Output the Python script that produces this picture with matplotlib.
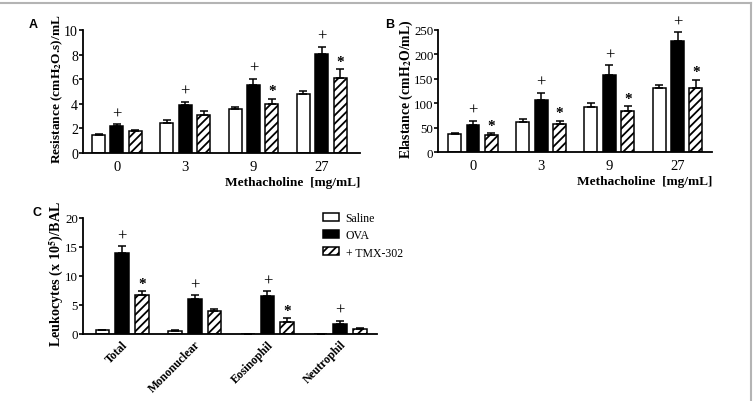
import numpy as np
import matplotlib
matplotlib.use('Agg')
import matplotlib.pyplot as plt
from matplotlib.patches import Patch
from matplotlib.lines import Line2D

plt.rcParams['font.family'] = 'Liberation Serif'
plt.rcParams['mathtext.fontset'] = 'stix'
plt.rcParams['hatch.linewidth'] = 1.3

# Methacholine doses
doses = ['0', '3', '9', '27']

# Resistance (cmH2O.s)/mL
res_saline = [1.45, 2.45, 3.55, 4.8]
res_saline_err = [0.08, 0.27, 0.22, 0.2]
res_ova = [2.2, 3.9, 5.55, 8.05]
res_ova_err = [0.12, 0.28, 0.5, 0.58]
res_tmx = [1.82, 3.05, 3.98, 6.1]
res_tmx_err = [0.06, 0.33, 0.43, 0.7]
res_plus = [True, True, True, True]
res_star = [False, False, True, True]

# Elastance (cmH2O/mL)
ela_saline = [37, 61, 92, 131]
ela_saline_err = [2, 7, 8, 6]
ela_ova = [56, 106, 157, 227]
ela_ova_err = [8, 16, 21, 18]
ela_tmx = [36, 58, 84, 131]
ela_tmx_err = [3, 6, 10, 17]
ela_plus = [True, True, True, True]
ela_star = [True, True, True, True]

# Leukocytes (x 10^5)/BAL
cells = ['Total', 'Mononuclear', 'Eosinophil', 'Neutrophil']
leu_saline = [0.6, 0.55, 0.0, 0.0]
leu_saline_err = [0.08, 0.08, 0.0, 0.0]
leu_ova = [13.9, 5.95, 6.45, 1.65]
leu_ova_err = [1.15, 0.7, 0.9, 0.65]
leu_tmx = [6.65, 3.95, 2.05, 0.8]
leu_tmx_err = [0.7, 0.4, 0.6, 0.18]
leu_plus = [True, True, True, True]
leu_star = [True, False, True, False]

fig = plt.figure(figsize=(7.53, 4.02), dpi=100)

W = 0.19   # bar width
D = 0.27   # bar offset


def bars(ax, labels, sal, sal_e, ova, ova_e, tmx, tmx_e, plus, star):
    x = np.arange(len(labels))
    kw = dict(width=W, edgecolor='black', linewidth=1.1, zorder=2,
              error_kw=dict(elinewidth=1.1, capthick=1.1, ecolor='black'), capsize=3)
    ax.bar(x - D, sal, color='white', yerr=[np.zeros(len(x)), sal_e], **kw)
    ax.bar(x, ova, color='black', yerr=[np.zeros(len(x)), ova_e], **kw)
    ax.bar(x + D, tmx, color='white', hatch='////', yerr=[np.zeros(len(x)), tmx_e], **kw)
    for i in range(len(x)):
        if plus[i]:
            ax.annotate('+', (x[i], ova[i] + ova_e[i]), xytext=(0, 2), textcoords='offset points',
                        ha='center', va='bottom', fontsize=12)
        if star[i]:
            ax.annotate('*', (x[i] + D, tmx[i] + tmx_e[i]), xytext=(0, 1), textcoords='offset points',
                        ha='center', va='bottom', fontsize=11, fontweight='bold')
    ax.set_xticks(x)
    for s in ['top', 'right']:
        ax.spines[s].set_visible(False)
    for s in ['left', 'bottom']:
        ax.spines[s].set_linewidth(1.3)
    ax.tick_params(axis='y', length=3, width=1.2, labelsize=10, pad=0.5)
    ax.tick_params(axis='x', length=0, labelsize=10.5, pad=5)


# Panel A
ax1 = fig.add_axes([0.110, 0.617, 0.368, 0.306])
bars(ax1, doses, res_saline, res_saline_err, res_ova, res_ova_err, res_tmx, res_tmx_err, res_plus, res_star)
ax1.set_xticklabels(doses)
ax1.set_xlim(-0.5, 3.56)
ax1.set_ylim(0, 10)
ax1.set_yticks([0, 2, 4, 6, 8, 10])
ax1.set_ylabel('Resistance (cmH$_\\mathbf{2}$O.s)/mL', fontsize=9.6, fontweight='bold')
ax1.yaxis.set_label_coords(-0.066, 0.53)
ax1.set_xlabel('Methacholine  [mg/mL]', fontsize=9.6, fontweight='bold', loc='right', labelpad=2)
fig.text(0.044, 0.938, 'A', fontsize=9, fontweight='bold', family='Liberation Sans', ha='center', va='center')

# Panel B
ax2 = fig.add_axes([0.582, 0.619, 0.364, 0.304])
bars(ax2, doses, ela_saline, ela_saline_err, ela_ova, ela_ova_err, ela_tmx, ela_tmx_err, ela_plus, ela_star)
ax2.set_xticklabels(doses)
ax2.set_xlim(-0.51, 3.51)
ax2.set_ylim(0, 250)
ax2.set_yticks([0, 50, 100, 150, 200, 250])
ax2.tick_params(axis='y', labelsize=9.3)
ax2.set_ylabel('Elastance (cmH$_\\mathbf{2}$O/mL)', fontsize=9.9, fontweight='bold')
ax2.yaxis.set_label_coords(-0.086, 0.52)
ax2.set_xlabel('Methacholine  [mg/mL]', fontsize=9.6, fontweight='bold', loc='right', labelpad=2)
fig.text(0.518, 0.938, 'B', fontsize=9, fontweight='bold', family='Liberation Sans', ha='center', va='center')

# Panel C
ax3 = fig.add_axes([0.110, 0.167, 0.391, 0.289])
bars(ax3, cells, leu_saline, leu_saline_err, leu_ova, leu_ova_err, leu_tmx, leu_tmx_err, leu_plus, leu_star)
ax3.set_xticklabels(cells, rotation=45, ha='right', rotation_mode='anchor', fontsize=8.5, fontweight='bold')
ax3.tick_params(axis='x', pad=3)
ax3.tick_params(axis='y', labelsize=9.3)
ax3.set_xlim(-0.54, 3.51)
ax3.set_ylim(0, 20)
ax3.set_yticks([0, 5, 10, 15, 20])
ax3.set_ylabel('Leukocytes (x 10$^{\\mathbf{5}}$)/BAL', fontsize=10.2, fontweight='bold')
ax3.yaxis.set_label_coords(-0.058, 0.52)
fig.text(0.049, 0.47, 'C', fontsize=9, fontweight='bold', family='Liberation Sans', ha='center', va='center')

handles = [Patch(facecolor='white', edgecolor='black', linewidth=1.1),
           Patch(facecolor='black', edgecolor='black', linewidth=1.1),
           Patch(facecolor='white', edgecolor='black', hatch='////', linewidth=1.1)]
fig.legend(handles, ['Saline', 'OVA', '+ TMX-302'], loc='upper left', bbox_to_anchor=(0.423, 0.482),
           frameon=False, fontsize=8.5, handlelength=1.3, handleheight=0.65, handletextpad=0.6,
           labelspacing=0.45, borderaxespad=0)

# light grey frame (top and right)
fig.add_artist(Line2D([0, 0.997], [0.990, 0.990], color='#b4b4b4', linewidth=1.5, transform=fig.transFigure))
fig.add_artist(Line2D([0.997, 0.997], [0.990, 0], color='#b4b4b4', linewidth=1.5, transform=fig.transFigure))

fig.savefig('out.png', dpi=100)
